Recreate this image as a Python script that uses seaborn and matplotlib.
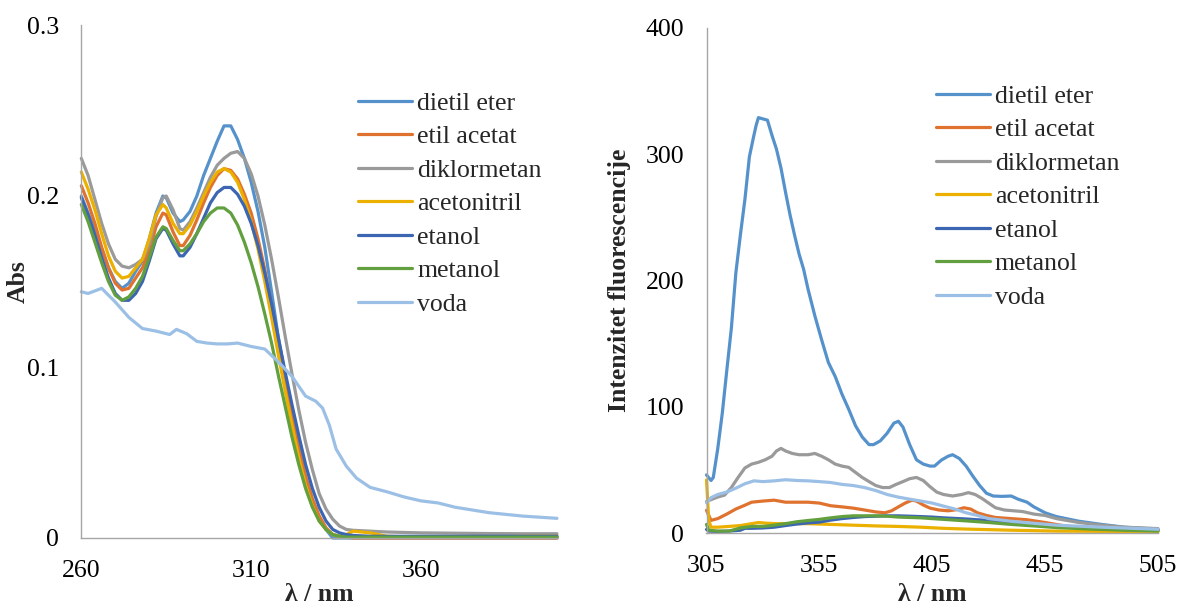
import pandas as pd
import seaborn as sns
from matplotlib import pyplot as plt

solvents = ['dietil eter', 'etil acetat', 'diklormetan', 'acetonitril', 'etanol', 'metanol', 'voda']
colors = ['#5592CB', '#E0722F', '#9A9A9A', '#EBB000', '#3D66B2', '#62A03F', '#9CC0E5']

# --- absorption (left) ---
abs_wl = [260, 262, 264, 266, 268, 270, 272, 274, 276, 278, 280, 282, 284, 285, 287, 289, 290,
          292, 294, 296, 298, 300, 302, 304, 306, 308, 310, 312, 314, 316, 318, 320, 322, 324,
          326, 328, 330, 332, 334, 336, 338, 340, 345, 350, 360, 370, 380, 390, 400]
abs_dietil = [0.200, 0.190, 0.180, 0.169, 0.158, 0.150, 0.146, 0.149, 0.156, 0.162, 0.175, 0.190, 0.200, 0.199,
              0.190, 0.185, 0.186, 0.191, 0.200, 0.212, 0.222, 0.232, 0.241, 0.241, 0.233, 0.222, 0.208, 0.191,
              0.170, 0.144, 0.117, 0.095, 0.073, 0.053, 0.036, 0.022, 0.012, 0.005, 0.0, 0.0, 0.0, 0.0,
              0.0, 0.0, 0.0, 0.0, 0.0, 0.0, 0.0]
abs_etilacetat = [0.206, 0.196, 0.184, 0.170, 0.158, 0.149, 0.145, 0.146, 0.152, 0.158, 0.168, 0.182, 0.190, 0.189,
                  0.179, 0.171, 0.171, 0.177, 0.186, 0.196, 0.205, 0.212, 0.216, 0.215, 0.210, 0.201, 0.190, 0.175,
                  0.157, 0.135, 0.111, 0.090, 0.070, 0.052, 0.036, 0.023, 0.013, 0.006, 0.002, 0.001, 0.0005,
                  0.0, 0.0, 0.0, 0.0, 0.0, 0.0, 0.0, 0.0]
abs_diklormetan = [0.222, 0.212, 0.198, 0.184, 0.172, 0.163, 0.159, 0.158, 0.160, 0.163, 0.172, 0.188, 0.199, 0.200,
                   0.192, 0.181, 0.180, 0.185, 0.193, 0.202, 0.211, 0.218, 0.222, 0.225, 0.226, 0.222, 0.213, 0.200,
                   0.183, 0.163, 0.141, 0.118, 0.096, 0.075, 0.056, 0.040, 0.026, 0.017, 0.011, 0.007, 0.005,
                   0.0045, 0.004, 0.0035, 0.003, 0.0028, 0.0026, 0.0025, 0.0025]
abs_acetonitril = [0.214, 0.204, 0.192, 0.178, 0.165, 0.156, 0.152, 0.153, 0.158, 0.163, 0.175, 0.189, 0.195, 0.193,
                   0.184, 0.178, 0.178, 0.183, 0.191, 0.200, 0.208, 0.214, 0.216, 0.214, 0.208, 0.198, 0.185, 0.169,
                   0.150, 0.129, 0.107, 0.086, 0.066, 0.047, 0.031, 0.019, 0.010, 0.005, 0.002, 0.001, 0.002,
                   0.004, 0.003, 0.001, 0.0005, 0.0005, 0.0005, 0.001, 0.001]
abs_etanol = [0.199, 0.189, 0.177, 0.164, 0.152, 0.143, 0.139, 0.139, 0.143, 0.150, 0.162, 0.175, 0.181, 0.180,
              0.172, 0.165, 0.165, 0.170, 0.178, 0.187, 0.196, 0.202, 0.205, 0.205, 0.201, 0.194, 0.184, 0.171,
              0.155, 0.137, 0.117, 0.097, 0.078, 0.060, 0.043, 0.029, 0.018, 0.010, 0.005, 0.003, 0.002,
              0.0015, 0.001, 0.001, 0.001, 0.001, 0.001, 0.001, 0.001]
abs_metanol = [0.195, 0.185, 0.173, 0.161, 0.150, 0.142, 0.139, 0.141, 0.146, 0.153, 0.164, 0.176, 0.182, 0.181,
               0.174, 0.168, 0.168, 0.172, 0.178, 0.185, 0.190, 0.193, 0.193, 0.190, 0.183, 0.173, 0.161, 0.147,
               0.131, 0.114, 0.095, 0.077, 0.059, 0.043, 0.029, 0.018, 0.010, 0.005, 0.002, 0.001, 0.0005,
               0.0005, 0.0005, 0.0005, 0.0005, 0.0005, 0.0005, 0.0005, 0.0005]
voda_wl = [260, 262, 266, 270, 274, 278, 282, 286, 288, 291, 294, 297, 300, 303, 306, 310, 314, 318, 322,
           326, 329, 331, 333, 335, 338, 341, 345, 350, 355, 360, 365, 370, 380, 390, 400]
abs_voda = [0.144, 0.143, 0.146, 0.138, 0.129, 0.1225, 0.121, 0.119, 0.122, 0.1195, 0.115, 0.114, 0.1135, 0.1135,
            0.114, 0.112, 0.1105, 0.103, 0.0945, 0.083, 0.080, 0.076, 0.066, 0.052, 0.042, 0.035, 0.0296,
            0.027, 0.024, 0.0217, 0.0205, 0.018, 0.0148, 0.0128, 0.0115]

# --- fluorescence (right) ---
fl_dietil_wl = [305, 307, 308, 310, 312, 314, 316, 318, 320, 322, 324, 326, 327, 328, 330, 332, 334, 336, 338,
                340, 342, 344, 346, 348, 350, 353, 356, 359, 362, 365, 368, 371, 374, 377, 379, 382, 385, 388,
                390, 392, 395, 398, 401, 404, 406, 409, 412, 414, 417, 420, 423, 426, 429, 432, 436, 440, 443,
                447, 450, 455, 460, 470, 480, 490, 505]
fl_dietil = [46, 41.6, 44, 67, 95, 129, 162, 206, 236, 264, 298, 315, 323, 329, 328, 327, 315, 304, 289,
             270, 252, 236, 221, 209, 193, 172, 153, 135, 124, 110, 98, 85, 76, 70, 70, 73, 79, 87,
             88.5, 84, 70, 58, 54.6, 53, 53, 57.7, 60.8, 62, 59, 53, 45, 37.6, 31.5, 29.3, 29, 29.3, 26.8,
             24.4, 20.7, 16, 13, 9.3, 6.8, 4.6, 3]
fl_dikl_wl = [305, 310, 313, 316, 319, 322, 325, 328, 331, 334, 336, 338, 340, 343, 346, 350, 353, 356, 359,
              362, 365, 368, 371, 374, 377, 380, 383, 386, 389, 392, 395, 398, 401, 404, 407, 410, 414, 418,
              421, 424, 427, 430, 433, 437, 441, 445, 450, 455, 460, 470, 480, 490, 505]
fl_dikl = [25, 28.5, 30, 36, 44, 51.5, 54.6, 56, 58, 60.8, 65, 67, 65, 63, 62, 62, 63, 60.8, 58,
           54.6, 53, 52, 48, 44, 40.7, 37.6, 36, 36, 38.5, 40.7, 43, 44, 41.6, 36.7, 32.4, 30.5, 29.3, 30.5,
           32, 30.5, 27.4, 23.7, 20, 18.2, 17.6, 17, 15, 13.9, 11.4, 8.3, 6.2, 4.6, 3.5]
fl_voda_wl = [305, 307, 310, 314, 318, 322, 326, 330, 335, 340, 345, 350, 355, 360, 365, 370, 375, 380, 385,
              390, 395, 400, 405, 410, 415, 420, 425, 430, 440, 450, 460, 480, 505]
fl_voda = [24, 28, 30.5, 32.4, 35.5, 39, 41.3, 40.7, 41.3, 42.2, 41.6, 41.3, 40.7, 40, 38.5, 37.6, 36, 33.6, 30.5,
           28.4, 26.8, 25.3, 23.7, 21.3, 19, 16, 13.9, 11.4, 9.3, 7.7, 6.2, 4.6, 3]
fl_etil_wl = [305, 307, 310, 314, 318, 322, 325, 330, 335, 340, 345, 350, 355, 360, 365, 370, 375, 380, 384,
              387, 390, 393, 396, 398, 401, 404, 408, 412, 416, 419, 422, 425, 429, 433, 440, 447, 455, 465,
              480, 505]
fl_etil = [18, 10, 11.4, 15, 19, 22, 24.4, 25.3, 26, 24.4, 24.4, 24.4, 23.7, 21.6, 20.7, 19.7, 18.2, 16.7, 16,
           17.6, 20.7, 23.7, 26, 25.3, 22.2, 19.7, 18.2, 17.6, 18.5, 20, 19, 16, 13.9, 12.3, 11.4, 10.5, 8.3, 5.2,
           3.7, 2.5]
fl_acn_wl = [305, 306, 307, 310, 315, 320, 325, 328, 332, 336, 340, 345, 350, 355, 360, 370, 380, 390, 400,
             410, 420, 440, 460, 505]
fl_acn = [42, 10, 4.6, 4.6, 5.2, 5.9, 7.4, 8.3, 7.7, 7.4, 7.4, 7.4, 7.4, 7.1, 6.8, 6.2, 5.6, 5.2, 4.6,
          3.7, 3.1, 2.2, 1.5, 1]
fl_alc_wl = [305, 306, 310, 315, 320, 322, 325, 330, 335, 340, 345, 350, 355, 360, 365, 370, 375, 380, 385,
             390, 395, 400, 405, 410, 420, 430, 440, 450, 460, 475, 490, 505]
fl_etanol = [2.8, 1.5, 1.2, 1.5, 2.2, 3.7, 3.7, 4, 4.6, 5.9, 7.1, 8, 8.6, 10.2, 11.4, 12.3, 13, 13.3, 13.6,
             13.6, 13.3, 13, 12.6, 12, 11.1, 9.9, 8.3, 6.8, 5.2, 3.7, 2.8, 2.2]
fl_metanol = [6.8, 2.2, 1.5, 1.5, 4, 4.5, 5.2, 5.2, 6.2, 7.4, 8.9, 9.9, 10.8, 12, 13, 13.6, 13.6, 13.6, 13.3,
              12.6, 12.3, 12, 11.4, 10.8, 9.6, 8.3, 6.8, 5.6, 4.3, 3.1, 2.2, 1.5]


def long_form(series):
    frames = [pd.DataFrame({'wl': x, 'val': y, 'solvent': name}) for name, x, y in series]
    return pd.concat(frames, ignore_index=True)


abs_df = long_form([
    ('dietil eter', abs_wl, abs_dietil),
    ('etil acetat', abs_wl, abs_etilacetat),
    ('diklormetan', abs_wl, abs_diklormetan),
    ('acetonitril', abs_wl, abs_acetonitril),
    ('etanol', abs_wl, abs_etanol),
    ('metanol', abs_wl, abs_metanol),
    ('voda', voda_wl, abs_voda),
])
fl_df = long_form([
    ('dietil eter', fl_dietil_wl, fl_dietil),
    ('etil acetat', fl_etil_wl, fl_etil),
    ('diklormetan', fl_dikl_wl, fl_dikl),
    ('acetonitril', fl_acn_wl, fl_acn),
    ('etanol', fl_alc_wl, fl_etanol),
    ('metanol', fl_alc_wl, fl_metanol),
    ('voda', fl_voda_wl, fl_voda),
])

sns.set_style('white')
plt.rcParams['font.family'] = ['Liberation Serif', 'DejaVu Serif']
FS = 18.5
palette = dict(zip(solvents, colors))
axis_grey = '#A6A6A6'

fig = plt.figure(figsize=(11.8, 6.11), dpi=100)
ax1 = fig.add_axes([81.3 / 1180, 1 - 538 / 611, 475.7 / 1180, 513 / 611])
ax2 = fig.add_axes([706.5 / 1180, 1 - 533 / 611, 451.5 / 1180, 505 / 611])

for ax, df in ((ax1, abs_df), (ax2, fl_df)):
    sns.lineplot(
        data=df, x='wl', y='val', hue='solvent', hue_order=solvents,
        palette=palette, estimator=None, sort=False, linewidth=2.3, ax=ax
    )
    for line in ax.get_lines():
        line.set_clip_on(False)
        line.set_solid_joinstyle('round')

ax1.set_xlim(260, 400)
ax1.set_ylim(0, 0.3)
ax1.set_xticks([260, 310, 360])
ax1.set_yticks([0, 0.1, 0.2, 0.3])
ax1.set_yticklabels(['0', '0.1', '0.2', '0.3'])

ax2.set_xlim(305, 505)
ax2.set_ylim(0, 400)
ax2.set_xticks([305, 355, 405, 455, 505])
ax2.set_yticks([0, 100, 200, 300, 400])

for ax, ylab, lx, xl_y, leg_xy in (
    (ax1, 'Abs', -0.108, -0.088, (0.5817, 0.870)),
    (ax2, 'Intenzitet fluorescencije', -0.167, -0.099, (0.508, 0.888)),
):
    for side in ('top', 'right'):
        ax.spines[side].set_visible(False)
    for side in ('left', 'bottom'):
        ax.spines[side].set_color(axis_grey)
        ax.spines[side].set_linewidth(1.0)
    ax.tick_params(axis='both', direction='out', length=5, width=1.0, color=axis_grey,
                   labelsize=FS, labelcolor='black')
    ax.tick_params(axis='y', pad=11)
    ax.tick_params(axis='x', pad=11)
    ax.set_xlabel('λ / nm', fontsize=FS, fontweight='bold')
    ax.set_ylabel(ylab, fontsize=FS, fontweight='bold')
    ax.yaxis.set_label_coords(lx, 0.5)
    ax.xaxis.set_label_coords(0.5, xl_y)
    ax.grid(False)

    handles, labels = ax.get_legend_handles_labels()
    leg = ax.legend(
        handles, labels, loc='upper left', bbox_to_anchor=leg_xy, frameon=False,
        fontsize=FS, handlelength=2.1, handletextpad=0.2, labelspacing=0.41,
        borderpad=0, borderaxespad=0
    )
    for hl in leg.get_lines():
        hl.set_linewidth(2.3)

fig.savefig('out.png', dpi=100)
